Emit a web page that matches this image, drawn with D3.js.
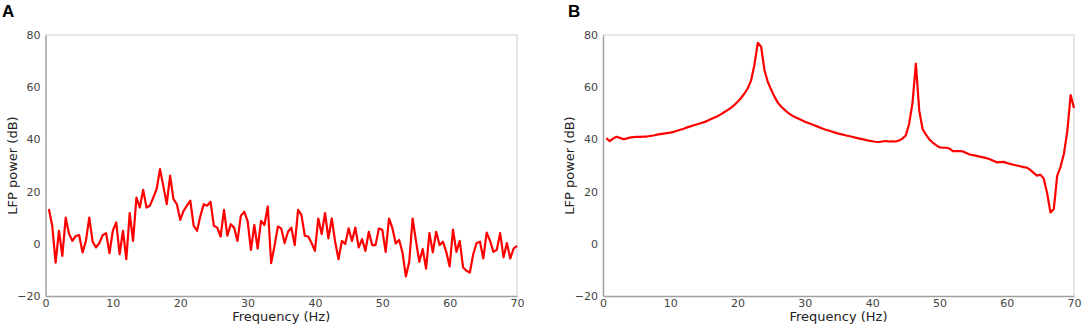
<!DOCTYPE html>
<html><head><meta charset="utf-8">
<script src="https://cdn.jsdelivr.net/npm/d3@7"></script>
<style>
body{margin:0;background:#fff;}
svg{display:block;font-family:"DejaVu Sans",sans-serif;}
</style></head>
<body><svg id="c" width="1084" height="329"></svg>
<script>
// Frequencies: 0.5 Hz steps from 0.5 to 70 Hz
const freqs = d3.range(1, 141).map(k => k * 0.5);

const powerA = [13.3, 6.9, -7.2, 5, -4.6, 10, 3.8, 1.1, 3, 3.3, -3.3, 1.1, 10, 0.8, -1.4, 0.3, 3.3, 4.1, -3.6, 5,
 8.2, -4, 5, -5.9, 11.8, 1.1, 17.7, 13.9, 20.7, 13.9, 14.6, 17.7, 21, 28.6, 22,
 15.2, 26.1, 17.1, 15.2, 9.2, 12.6, 14.6, 16.5, 6.9, 5, 10.7, 15.2, 14.6, 16.1, 6.9, 6.2, 2.8, 13, 3.1, 7.5, 6.2,
 1.1, 10.7, 12.3, 8.8, -2.3, 7.2, -1.8, 8.8, 7.2, 14.3, -7.4, -0.8, 6.6,
 5.9, 0.3, 4.6, 6.2, -0.5, 13, 11, 3.1, 2.8, 0.3, -2.7, 9.7, 3.7, 11.8, 2.1, 9.7, 0.8, -5.9, 1.1, -0.1, 5.9, 1.1,
 6.2, -1.4, 1.8, -2.7, 4.6, -0.5, -0.5, 5.9, 5.4, -3.1, 9.7, 6, 0.1,
 1.5, -3.3, -12.5, -6.9, 9.7, 1.1, -6.9, -2.0, -9.5, 4.1, -3.3, 4.6, -0.5, 0.8, -3.1, -8.7, 5.4, -3.1, 1.1, -9.1,
 -10.3, -11, -4, 0.3, 0.8, -5.6, 4.3, 1.1, -3.1, -2.3, 4.1, -5.2, 0.3, -5.6, -1.8, -0.8];

const powerB = [40.5, 39.3, 40.3, 41.0, 40.6, 40.1, 40.3, 40.7, 40.9, 41.0, 41.0, 41.1, 41.1, 41.3, 41.5, 41.8, 42.0, 42.2, 42.4, 42.6,
 42.9, 43.3, 43.7, 44.1, 44.6, 45.0, 45.4, 45.8, 46.2, 46.6, 47.1, 47.7, 48.3, 48.9, 49.6, 50.4, 51.2, 52.1, 53.1, 54.4,
 55.8, 57.5, 59.5, 62.5, 68.5, 77.0, 75.5, 66.5, 62.0, 59.0, 56.3, 54.0, 52.5, 51.3, 50.2, 49.3, 48.6, 48.0, 47.4, 46.8,
 46.3, 45.8, 45.3, 44.8, 44.3, 43.8, 43.4, 43.0, 42.6, 42.2, 41.9, 41.6, 41.3, 41.0, 40.7, 40.4, 40.1, 39.8, 39.5, 39.3,
 39.1, 39.0, 39.2, 39.4, 39.2, 39.3, 39.2, 39.6, 40.3, 41.5, 46.0, 54.0, 69.0, 51.0, 44.0, 41.8, 40.0, 38.8, 37.8, 37.0,
 36.8, 36.8, 36.5, 35.5, 35.5, 35.5, 35.4, 34.8, 34.2, 34.0, 33.7, 33.4, 33.1, 32.8, 32.4, 31.8, 31.2, 31.3, 31.4, 31.0,
 30.6, 30.3, 30.0, 29.7, 29.4, 29.2, 28.3, 27.2, 26.1, 26.5, 25.0, 19.5, 12.0, 13.3, 26.0, 29.5, 34.5, 43.0, 57.0, 52.0];

const xTicks = [0, 10, 20, 30, 40, 50, 60, 70];
const yTicks = [-20, 0, 20, 40, 60, 80];
const panelLabels = ["A", "B"];
const xTitle = "Frequency (Hz)";
const yTitle = "LFP power (dB)";

const svg = d3.select("#c");
const panels = [
  {label: panelLabels[0], data: powerA, x0: 45.5, x1: 517, lx: 2},
  {label: panelLabels[1], data: powerB, x0: 603, x1: 1074, lx: 568}
];
const plotTop = 35, plotBottom = 296;
const fmt = d => d < 0 ? "\u2212" + Math.abs(d) : String(d);

panels.forEach(p => {
  const x = d3.scaleLinear().domain([0, 70]).range([p.x0, p.x1]);
  const y = d3.scaleLinear().domain([-20, 80]).range([plotBottom, plotTop]);
  const g = svg.append("g");
  // light top/right frame
  g.append("line").attr("x1", p.x0).attr("x2", p.x1).attr("y1", plotTop).attr("y2", plotTop)
    .attr("stroke", "#dedede").attr("stroke-width", 1.5);
  g.append("line").attr("x1", p.x1).attr("x2", p.x1).attr("y1", plotTop).attr("y2", plotBottom)
    .attr("stroke", "#dedede").attr("stroke-width", 1.5);
  // axes
  const ax = g.append("g").attr("transform", `translate(0,${plotBottom})`)
    .call(d3.axisBottom(x).tickValues(xTicks).tickSize(0).tickPadding(3).tickFormat(fmt));
  const ay = g.append("g").attr("transform", `translate(${p.x0},0)`)
    .call(d3.axisLeft(y).tickValues(yTicks).tickSize(0).tickPadding(5).tickFormat(fmt));
  [ax, ay].forEach(a => {
    a.select(".domain").attr("stroke", "#a0a0a0").attr("stroke-width", 1.5);
    a.selectAll("text").attr("fill", "#444").style("font-size", "11px")
      .style("font-family", "'DejaVu Sans',sans-serif");
  });
  // line
  const line = d3.line().x((d, i) => x(freqs[i])).y(d => y(d));
  g.append("path").datum(p.data).attr("d", line).attr("fill", "none")
    .attr("stroke", "#ff0000").attr("stroke-width", 2.2).attr("stroke-linejoin", "round");
  // titles
  g.append("text").attr("x", (p.x0 + p.x1) / 2).attr("y", 321).attr("text-anchor", "middle")
    .style("font-size", "13px").attr("fill", "#222").text(xTitle);
  g.append("text").attr("transform", `translate(${p.x0 - 29},${(plotTop + plotBottom) / 2}) rotate(-90)`)
    .attr("text-anchor", "middle").style("font-size", "13px").attr("fill", "#222").text(yTitle);
  g.append("text").attr("x", p.lx).attr("y", 17).style("font-size", "17px")
    .style("font-weight", "bold").style("font-family", "'Liberation Sans',Arial,sans-serif")
    .attr("fill", "#000").text(p.label);
});
</script></body></html>
